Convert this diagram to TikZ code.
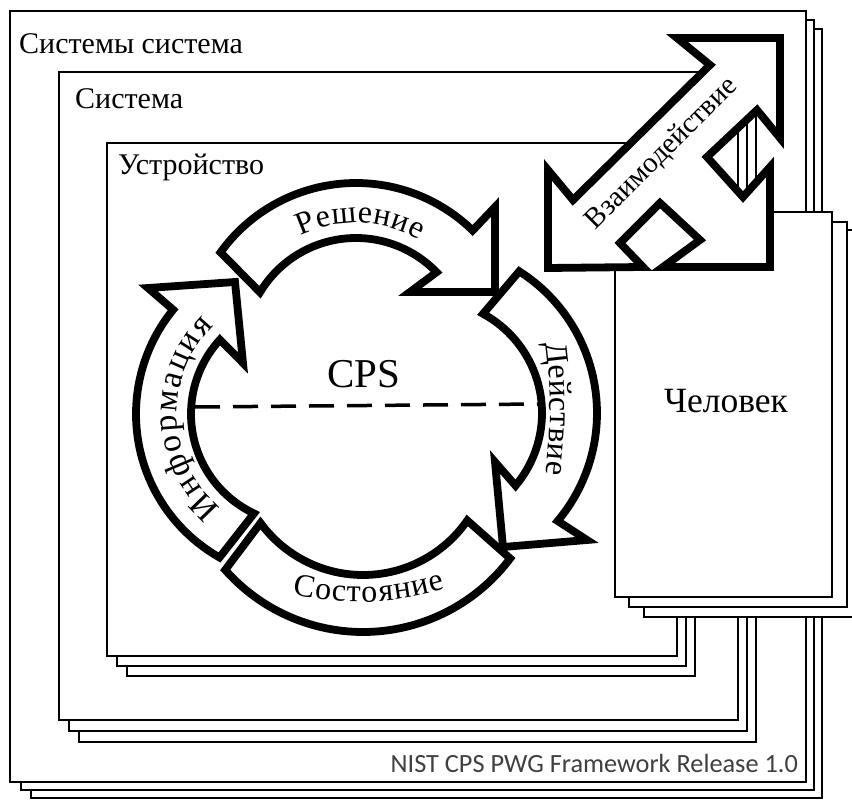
\documentclass[tikz,border=0pt]{standalone}
\usepackage{fontspec}
\setmainfont{Liberation Serif}
\newfontfamily\nistfont{Carlito}
\usetikzlibrary{calc}
\newcommand\arcsize{31}
\newcommand\arcfont{\fontsize{\arcsize}{\arcsize}\selectfont}
\newcommand\arctrack{1}
% letters set one by one along a circular arc
% #1 centre, #2 baseline radius, #3 middle angle, #4 direction (1 or -1),
% #5 node name prefix, #6 list of letter/advance-width (em) pairs
\newcommand\arcword[6]{%
  \xdef\arcTotal{0}%
  \foreach \ch/\cw in {#6}{%
    \pgfmathsetmacro\arcT{\arcTotal+\cw*\arcsize+\arctrack}%
    \xdef\arcTotal{\arcT}%
  }%
  \xdef\arcAcc{0}%
  \foreach \ch/\cw [count=\k] in {#6}{%
    \pgfmathsetmacro\arcW{\cw*\arcsize+\arctrack}%
    \pgfmathsetmacro\arcPhi{#3+(#4)*(\arcAcc+\arcW/2-\arcTotal/2)/(#2)*180/pi}%
    \pgfmathsetmacro\arcRot{0-(\arcPhi)-90*(#4)}%
    \node[font=\arcfont, anchor=base, inner sep=0pt, rotate=\arcRot]
      (#5-\k) at ($(#1)+(\arcPhi:#2)$) {\ch};
    \pgfmathsetmacro\arcT{\arcAcc+\arcW}%
    \xdef\arcAcc{\arcT}%
  }%
}
\begin{document}
\begin{tikzpicture}[x=1pt,y=-1pt,
  frame/.style={draw=black, line width=2.8pt, fill=white},
  band/.style={draw=black, line width=7.8pt, fill=white, line join=miter, miter limit=12},
  boxlabel/.style={font=\fontsize{30}{30}\selectfont, anchor=base west, inner sep=0pt},
  dashline/.style={draw=black, line width=3.5pt, dash pattern=on 25pt off 13pt},
]
\useasboundingbox (0,0) rectangle (852,802);
\clip (0,0) rectangle (852,802);
\fill[white] (0,0) rectangle (852,802);

% systems of systems
\path[frame] (31,29) rectangle (822,798);
\path[frame] (21,20) rectangle (814,790);
\path[frame] (10,11) rectangle (806,782);
\node[boxlabel] (lsos) at (19,54) {Системы система};

% system
\path[frame] (79,92) rectangle (756,742);
\path[frame] (69,82) rectangle (747,731);
\path[frame] (59,72) rectangle (738,720);
\node[boxlabel] (lsys) at (75,109) {Система};

% device
\path[frame] (127,163) rectangle (695,676);
\path[frame] (117,153) rectangle (686,666);
\path[frame] (107,143) rectangle (677,656);
\node[boxlabel] (ldev) at (118,175) {Устройство};

% CPS cycle
\coordinate (dashL) at (195,407);
\coordinate (dashR) at (539,404);
\draw[dashline] (dashL) -- (dashR);

\coordinate (cR) at (356,350);
\coordinate (cD) at (429,413);
\coordinate (cS) at (363,448);
\coordinate (cI) at (301,414);
\coordinate (tD) at (50,409);
\coordinate (tS) at (358,302);

% decision
\path[band] ($(cR)+(215.8:167)$) arc[start angle=215.8, end angle=314.3, radius=167]
  -- (495,207) -- (495,292) -- (410,292)
  -- ($(cR)+(316:112)$) arc[start angle=316, end angle=211, radius=112] -- cycle;
% action
\path[band] ($(cD)+(-57.5:168)$) arc[start angle=-57.5, end angle=40, radius=168]
  -- (587,540) -- (503,547) -- (495,462)
  -- ($(cD)+(40:113)$) arc[start angle=40, end angle=-61.4, radius=113] -- cycle;
% state
\path[band] ($(cS)+(36.9:184)$) arc[start angle=36.9, end angle=138.5, radius=184]
  -- ($(cS)+(143.8:127)$) arc[start angle=143.8, end angle=34.8, radius=127] -- cycle;
% information
\path[band] ($(cI)+(119.6:165)$) arc[start angle=119.6, end angle=219.2, radius=165]
  -- (148,288) -- (235,282) -- (243,363)
  -- ($(cI)+(222.5:110)$) arc[start angle=222.5, end angle=115.3, radius=110] -- cycle;

\renewcommand\arcsize{32}\renewcommand\arctrack{0.6}
\arcword{cR}{127}{272}{1}{dec}{Р/.556,е/.444,ш/.763,е/.444,н/.535,и/.535,е/.444}
\renewcommand\arcsize{32}\renewcommand\arctrack{0.6}
\arcword{tD}{500}{0}{1}{act}{Д/.668,е/.444,й/.535,с/.444,т/.4375,в/.472,и/.535,е/.444}
\renewcommand\arcsize{32}\renewcommand\arctrack{1.1}
\arcword{tS}{300}{87.9}{-1}{sta}{С/.667,о/.5,с/.444,т/.4375,о/.5,я/.493,н/.535,и/.535,е/.444}
\renewcommand\arcsize{34}\renewcommand\arctrack{2}
\arcword{cI}{124}{178}{1}{inf}{И/.722,н/.535,ф/.65,о/.5,р/.5,м/.625,а/.444,ц/.535,и/.535,я/.493}

\node[font=\fontsize{41}{41}\selectfont, anchor=base, inner sep=0pt] (lcps) at (364,388) {CPS};

% human
\path[frame] (644,230) rectangle (866,617);
\path[frame] (629,222) rectangle (847,607);
\path[frame] (615,212) rectangle (832,597);
\node[font=\fontsize{35.5}{35.5}\selectfont, anchor=base, inner sep=0pt] (lhum) at (726,413) {Человек};

% interaction
\fill[white] (643,267) -- (620,243) -- (660,203) -- (700,240) -- (663,267) -- cycle;
\path[band] (677,38) -- (780,38) -- (780,138) -- (757,110) -- (707,157) -- (743,197)
  -- (770,167) -- (770,267) -- (663,267) -- (700,240) -- (660,203) -- (620,243)
  -- (643,267) -- (548,268) -- (548,170) -- (573,200) -- (710,65) -- cycle;
\node[font=\fontsize{29}{29}\selectfont, rotate=45, inner sep=0pt] (lint) at (662,154) {Взаимодействие};

\node[font=\nistfont\fontsize{26.3}{26.3}\selectfont, anchor=base east, inner sep=0pt, text=black!75] (lnist) at (798,772) {NIST CPS PWG Framework Release 1.0};
\end{tikzpicture}
\end{document}
